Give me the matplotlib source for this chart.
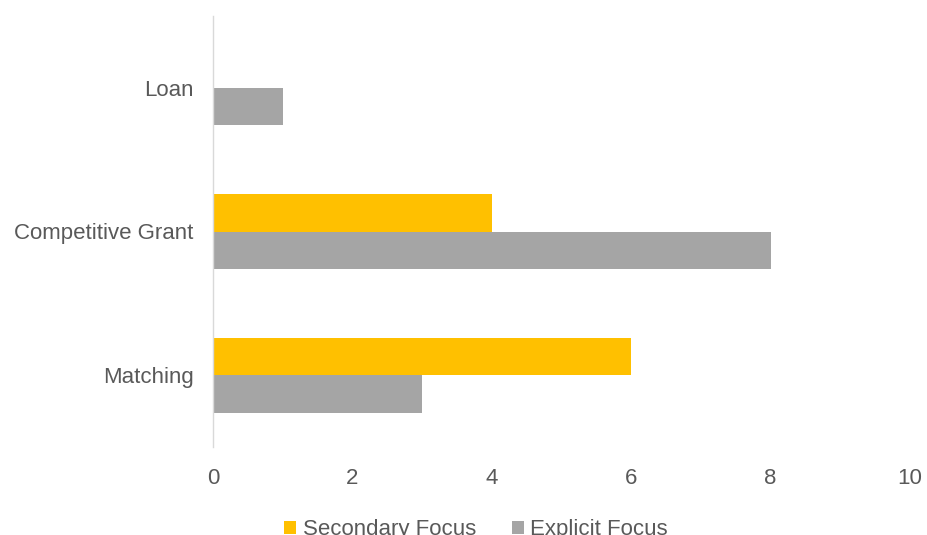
import matplotlib
matplotlib.use('Agg')
import matplotlib.pyplot as plt
import numpy as np

# 数据
categories = ['Matching', 'Competitive Grant', 'Loan']
secondary_focus = [6, 4, 0]
explicit_focus = [3, 8, 1]
x_ticks = [0, 2, 4, 6, 8, 10]

plt.rcParams['font.family'] = ['Liberation Sans', 'DejaVu Sans']
text_color = '#595959'

fig = plt.figure(figsize=(9.27, 5.35), dpi=100)
ax = fig.add_axes([213 / 927, 88 / 535, 697 / 927, 431 / 535])

y = np.arange(len(categories))
h = 0.26
ax.barh(y + h / 2, secondary_focus, height=h, color='#FFC000', label='Secondary Focus')
ax.barh(y - h / 2, explicit_focus, height=h, color='#A5A5A5', label='Explicit Focus')

ax.set_xlim(0, 10)
ax.set_ylim(-0.5, len(categories) - 0.5)
ax.set_xticks(x_ticks)
ax.set_yticks(y)
ax.set_yticklabels(categories)
ax.tick_params(axis='both', length=0, labelsize=16, colors=text_color)
ax.tick_params(axis='x', pad=15)
ax.tick_params(axis='y', pad=14)

for s in ['top', 'right', 'bottom']:
    ax.spines[s].set_visible(False)
ax.spines['left'].set_color('#D9D9D9')
ax.spines['left'].set_linewidth(1)

leg = fig.legend(loc='center', bbox_to_anchor=(476 / 927, 1 - 530 / 535), ncol=2,
                 frameon=False, fontsize=16, handlelength=0.55, handleheight=0.55,
                 handletextpad=0.3, columnspacing=1.6)
for t in leg.get_texts():
    t.set_color(text_color)

fig.savefig('out.png', dpi=100)
